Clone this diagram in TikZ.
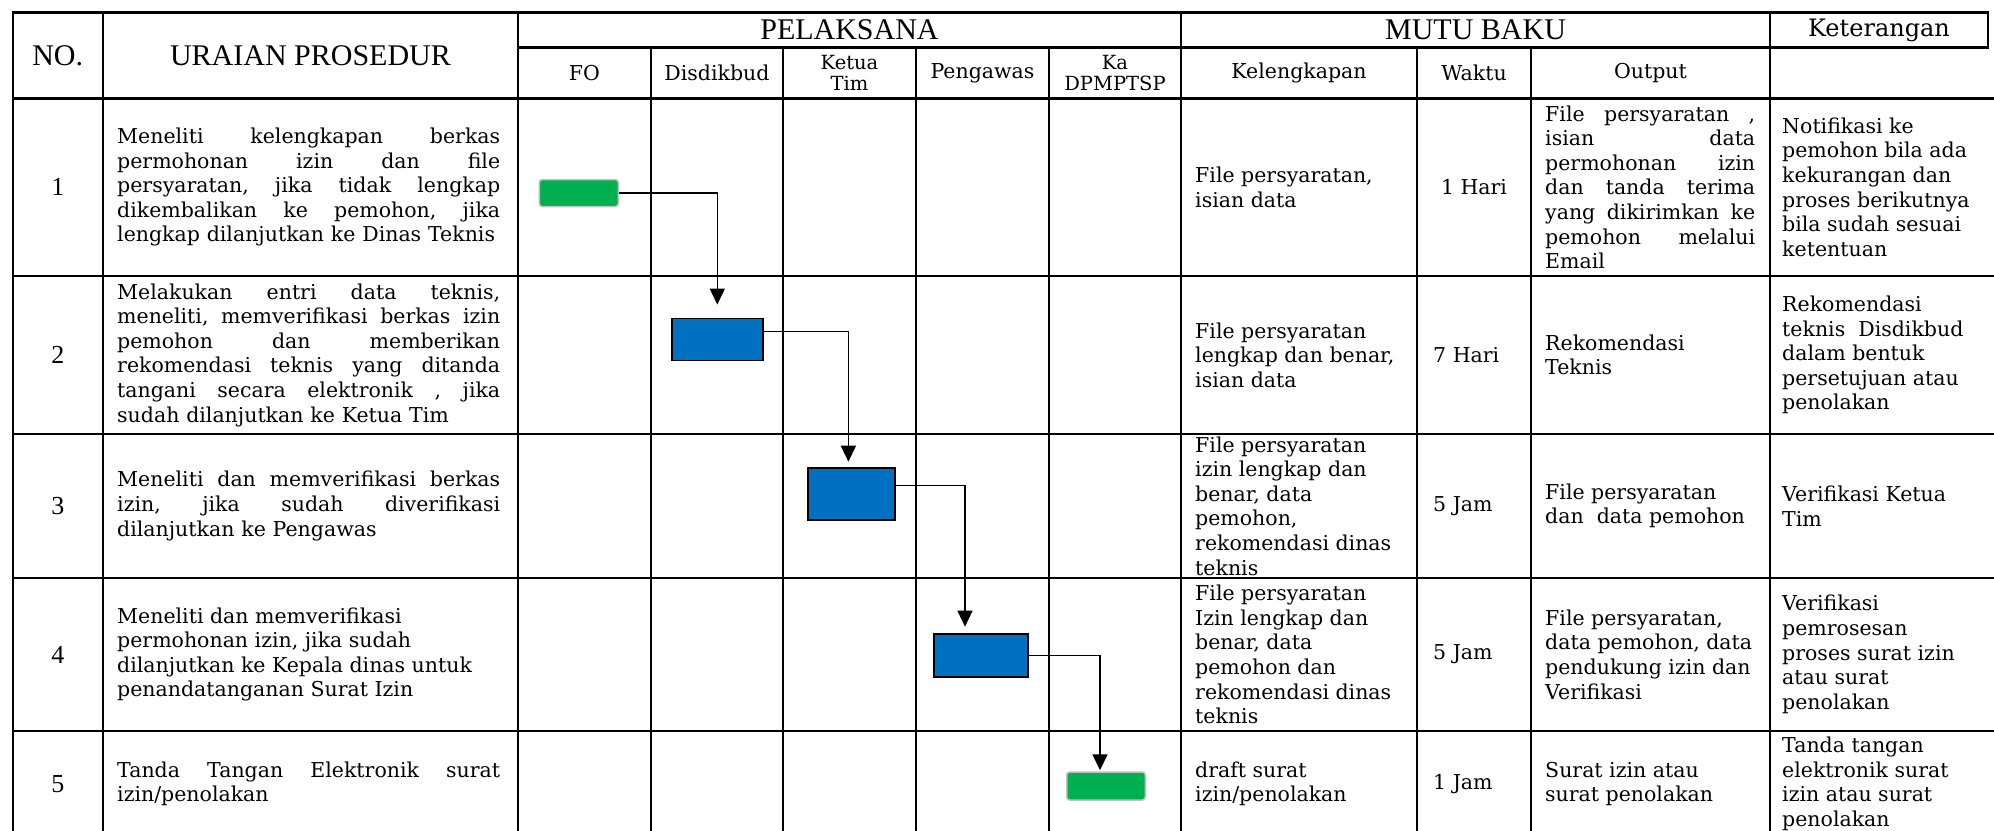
\documentclass[tikz,border=0pt]{standalone}
\usepackage{fontspec}
\newfontfamily\isifont{DejaVu Serif}
\newfontfamily\judulfont{Liberation Serif}
\usetikzlibrary{arrows.meta}
\definecolor{hijau}{RGB}{0,176,80}
\definecolor{biru}{RGB}{0,112,192}
\definecolor{abu}{RGB}{191,191,191}
\tikzset{
	garis/.style={line width=2.2pt, line cap=rect},
	judul/.style={font=\judulfont\fontsize{30}{32}\selectfont, inner sep=0pt},
	subjudul/.style={font=\isifont\fontsize{20.5}{24}\selectfont, inner sep=0pt},
	subjudulb/.style={font=\isifont\fontsize{19.5}{20.5}\selectfont, inner sep=0pt, align=center},
	nomor/.style={font=\judulfont\fontsize{26}{30}\selectfont, inner sep=0pt},
	isi/.style={font=\isifont\fontsize{20.5}{24.6}\selectfont, inner sep=0pt, anchor=west, align=left},
	mulai/.style={draw=abu, line width=1.5pt, fill=hijau, rounded corners=3pt, inner sep=0pt},
	proses/.style={draw=black, line width=1.8pt, fill=biru, inner sep=0pt},
	alur/.style={line width=1.6pt, -{Triangle[width=15pt,length=16pt]}}
}
% baris rata kiri-kanan: kata dipisah \sela
\newcommand{\sela}{\hfill}

\begin{document}
\begin{tikzpicture}[x=1pt,y=-1pt]
	\useasboundingbox (0,0) rectangle (1994,830);

	% garis tabel
	\draw[garis] (13,12.5) -- (1988,12.5);
	\draw[garis] (518,47.5) -- (1988,47.5);
	\draw[garis] (1988,12.5) -- (1988,47.5);
	\foreach \y in {98.5,276,434,578,731}
		\draw[garis] (13,\y) -- (1994,\y);
	\foreach \x in {13,103,518,1181,1770}
		\draw[garis] (\x,12.5) -- (\x,830);
	\foreach \x in {651,783,916,1049,1417,1531}
		\draw[garis] (\x,47.5) -- (\x,830);

	% kepala tabel
	\node[judul] (hno) at (57.75,55.5) {NO.};
	\node[judul] (hur) at (310.5,55.5) {URAIAN PROSEDUR};
	\node[judul] (hpl) at (849.5,30) {PELAKSANA};
	\node[judul] (hmb) at (1475.5,30) {MUTU BAKU};
	\node[subjudul, font=\isifont\fontsize{24}{26}\selectfont] (hket) at (1879,30) {Keterangan};

	\node[subjudul] (hfo) at (584.5,73) {FO};
	\node[subjudul] (hdk) at (717,73) {Disdikbud};
	\node[subjudulb] (hkt) at (849.5,73) {Ketua\\Tim};
	\node[subjudul] (hpg) at (982.5,73) {Pengawas};
	\node[subjudulb] (hka) at (1115,73) {Ka\\DPMPTSP};
	\node[subjudul] (hkl) at (1299,73) {Kelengkapan};
	\node[subjudul] (hwk) at (1474,73) {Waktu};
	\node[subjudul] (hop) at (1650.5,73) {Output};

	% nomor
	\node[nomor] (no1) at (57.75,187.25) {1};
	\node[nomor] (no2) at (57.75,355) {2};
	\node[nomor] (no3) at (57.75,506) {3};
	\node[nomor] (no4) at (57.75,654.5) {4};
	\node[nomor] (no5) at (57.75,784) {5};

	% uraian prosedur
	\node[isi, text width=383pt] (ur1) at (117,187.25) {Meneliti\sela kelengkapan\sela berkas\\permohonan\sela izin\sela dan\sela file\\persyaratan,\sela jika\sela tidak\sela lengkap\\dikembalikan\sela ke\sela pemohon,\sela jika\\lengkap dilanjutkan ke Dinas Teknis};
	\node[isi, text width=383pt] (ur2) at (117,355) {Melakukan\sela entri\sela data\sela teknis,\\meneliti,\sela memverifikasi\sela berkas\sela izin\\pemohon\sela dan\sela memberikan\\rekomendasi\sela teknis\sela yang\sela ditanda\\tangani\sela secara\sela elektronik\sela ,\sela jika\\sudah dilanjutkan ke Ketua Tim};
	\node[isi, text width=383pt] (ur3) at (117,506) {Meneliti\sela dan\sela memverifikasi\sela berkas\\izin,\sela jika\sela sudah\sela diverifikasi\\dilanjutkan ke Pengawas};
	\node[isi] (ur4) at (117,654.5) {Meneliti dan memverifikasi\\permohonan izin, jika sudah\\dilanjutkan ke Kepala dinas untuk\\penandatanganan Surat Izin};
	\node[isi, text width=383pt] (ur5) at (117,784) {Tanda\sela Tangan\sela Elektronik\sela surat\\izin/penolakan};

	% kelengkapan
	\node[isi] (kl1) at (1195,187.25) {File persyaratan,\\isian data};
	\node[isi] (kl2) at (1195,355) {File persyaratan\\lengkap dan benar,\\isian data};
	\node[isi] (kl3) at (1195,506) {File persyaratan\\izin lengkap dan\\benar, data\\pemohon,\\rekomendasi dinas\\teknis};
	\node[isi] (kl4) at (1195,654.5) {File persyaratan\\Izin lengkap dan\\benar, data\\pemohon dan\\rekomendasi dinas\\teknis};
	\node[isi] (kl5) at (1195,784) {draft surat\\izin/penolakan};

	% waktu
	\node[isi, anchor=center] (wk1) at (1474,187.25) {1 Hari};
	\node[isi] (wk2) at (1433,355) {7 Hari};
	\node[isi] (wk3) at (1433,506) {5 Jam};
	\node[isi] (wk4) at (1433,654.5) {5 Jam};
	\node[isi] (wk5) at (1433,784) {1 Jam};

	% output
	\node[isi, text width=210pt] (op1) at (1545,187.25) {File\sela persyaratan\sela ,\\isian\sela data\\permohonan\sela izin\\dan\sela tanda\sela terima\\yang\sela dikirimkan\sela ke\\pemohon\sela melalui\\Email};
	\node[isi] (op2) at (1545,355) {Rekomendasi\\Teknis};
	\node[isi] (op3) at (1545,506) {File persyaratan\\dan\ \ data pemohon};
	\node[isi] (op4) at (1545,654.5) {File persyaratan,\\data pemohon, data\\pendukung izin dan\\Verifikasi};
	\node[isi] (op5) at (1545,784) {Surat izin atau\\surat penolakan};

	% keterangan
	\node[isi] (kt1) at (1782,187.25) {Notifikasi ke\\pemohon bila ada\\kekurangan dan\\proses berikutnya\\bila sudah sesuai\\ketentuan};
	\node[isi] (kt2) at (1782,355) {Rekomendasi\\teknis\ \ Disdikbud\\dalam bentuk\\persetujuan atau\\penolakan};
	\node[isi] (kt3) at (1782,506) {Verifikasi Ketua\\Tim};
	\node[isi] (kt4) at (1782,654.5) {Verifikasi\\pemrosesan\\proses surat izin\\atau surat\\penolakan};
	\node[isi] (kt5) at (1782,784) {Tanda tangan\\elektronik surat\\izin atau surat\\penolakan};

	% alur pelaksana
	\node[mulai, minimum width=79pt, minimum height=27pt] (fo) at (578.8,193) {};
	\node[proses, minimum width=91pt, minimum height=42pt] (disdik) at (717.3,339.5) {};
	\node[proses, minimum width=87pt, minimum height=52pt] (ketua) at (851.4,494.3) {};
	\node[proses, minimum width=94.6pt, minimum height=42.7pt] (pengawas) at (981,655.3) {};
	\node[mulai, minimum width=78.5pt, minimum height=28pt] (kadis) at (1106,786) {};

	\draw[alur, shorten >=13pt] (fo.east) -| (disdik.north);
	\draw[alur, shorten >=5.7pt] ([yshift=8pt]disdik.east) -| ([xshift=-3pt]ketua.north);
	\draw[alur, shorten >=6.4pt] ([yshift=9pt]ketua.east) -| ([xshift=-16pt]pengawas.north);
	\draw[alur, shorten >=1pt] (pengawas.east) -| ([xshift=-6pt]kadis.north);
\end{tikzpicture}
\end{document}
